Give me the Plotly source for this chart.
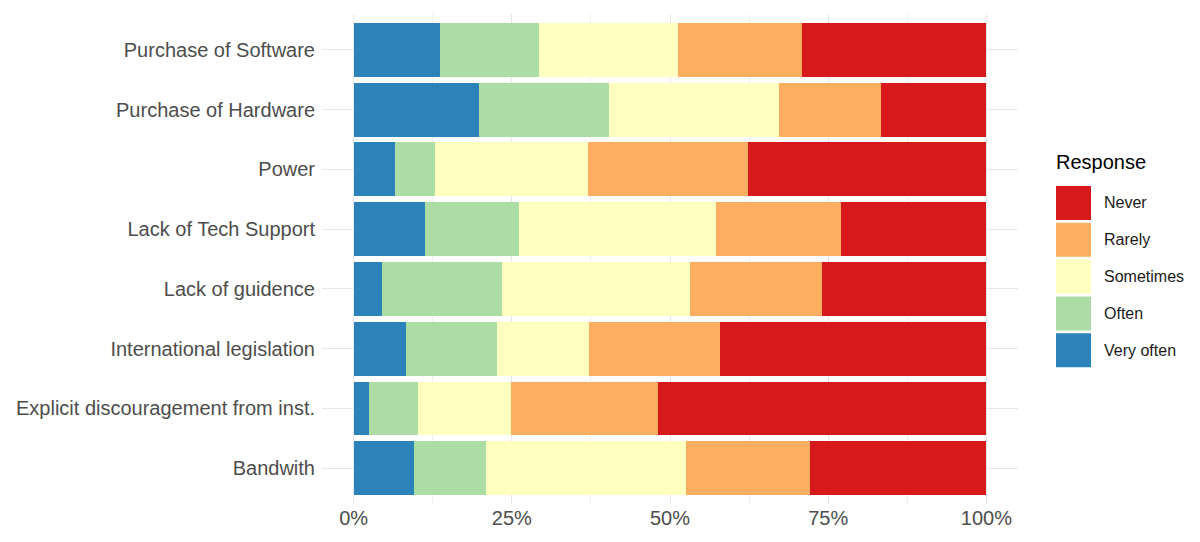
import plotly.graph_objects as go

# barriers, listed bottom to top as they appear on the chart
barriers = ["Bandwith", "Explicit discouragement from inst.", "International legislation",
            "Lack of guidence", "Lack of Tech Support", "Power",
            "Purchase of Hardware", "Purchase of Software"]

# share of answers per response level
very_often = [0.095, 0.025, 0.082, 0.045, 0.112, 0.065, 0.198, 0.136]
often      = [0.114, 0.076, 0.144, 0.189, 0.149, 0.064, 0.205, 0.157]
sometimes  = [0.317, 0.147, 0.146, 0.298, 0.311, 0.241, 0.270, 0.220]
rarely     = [0.196, 0.233, 0.207, 0.208, 0.199, 0.253, 0.161, 0.195]
never      = [0.278, 0.519, 0.421, 0.260, 0.229, 0.377, 0.166, 0.292]

responses = ["Very often", "Often", "Sometimes", "Rarely", "Never"]
colours = {"Never": "#d7191c", "Rarely": "#fdae61", "Sometimes": "#ffffbf",
           "Often": "#abdda4", "Very often": "#2b83ba"}
values = {"Very often": very_often, "Often": often, "Sometimes": sometimes,
          "Rarely": rarely, "Never": never}

FONT = "Liberation Sans, Arial, sans-serif"

# page body has an 8px margin, so the figure is drawn 8px in from the corner
OFF = 8
W, H = 1200 - 2 * OFF, 542 - 2 * OFF
# panel edges in screen pixels
L, R, T, B = 322, 1018, 14, 504


def px_x(x):
    return (x - L) / (R - L)


def px_y(y):
    return (B - y) / (B - T)


fig = go.Figure()
for resp in responses:
    fig.add_trace(go.Bar(y=barriers, x=values[resp], orientation="h", name=resp,
                         marker=dict(color=colours[resp], line=dict(width=0)),
                         showlegend=False))

# legend drawn by hand so the keys are the big ggplot squares
shapes = []
annotations = [dict(x=px_x(1054), y=px_y(162), xref="paper", yref="paper",
                    text="Response", showarrow=False, xanchor="left", yanchor="middle",
                    font=dict(family=FONT, size=20, color="#000000"))]
legend_order = ["Never", "Rarely", "Sometimes", "Often", "Very often"]
for i, resp in enumerate(legend_order):
    top = 186 + i * 36.8
    shapes.append(dict(type="rect", xref="paper", yref="paper",
                       x0=px_x(1056), x1=px_x(1091), y0=px_y(top), y1=px_y(top + 34),
                       fillcolor=colours[resp], line=dict(width=0), layer="above"))
    annotations.append(dict(x=px_x(1102), y=px_y(top + 17), xref="paper", yref="paper",
                            text=resp, showarrow=False, xanchor="left", yanchor="middle",
                            font=dict(family=FONT, size=16, color="#1a1a1a")))

fig.update_layout(
    barmode="stack",
    bargap=0.1,
    width=W, height=H,
    margin=dict(l=L - OFF, r=W + OFF - R, t=T - OFF, b=H + OFF - B, pad=0),
    paper_bgcolor="white",
    plot_bgcolor="white",
    font=dict(family=FONT, color="#4d4d4d"),
    shapes=shapes,
    annotations=annotations,
)
fig.update_xaxes(range=[-0.05, 1.05], tickvals=[0, 0.25, 0.5, 0.75, 1],
                 ticktext=["0%", "25%", "50%", "75%", "100%"],
                 showgrid=True, gridcolor="#e6e6e6", gridwidth=1,
                 minor=dict(tickvals=[0.125, 0.375, 0.625, 0.875], showgrid=True,
                            gridcolor="#efefef", gridwidth=0.7),
                 zeroline=False, showline=False, ticks="", automargin=False,
                 tickfont=dict(size=20, color="#4d4d4d"))
fig.update_yaxes(categoryorder="array", categoryarray=barriers,
                 range=[-0.6, 7.6], showgrid=True, gridcolor="#e6e6e6", gridwidth=1,
                 zeroline=False, showline=False, ticks="", ticklabelstandoff=6,
                 automargin=False, tickfont=dict(size=20, color="#4d4d4d"))

fig.write_html("out.html")
